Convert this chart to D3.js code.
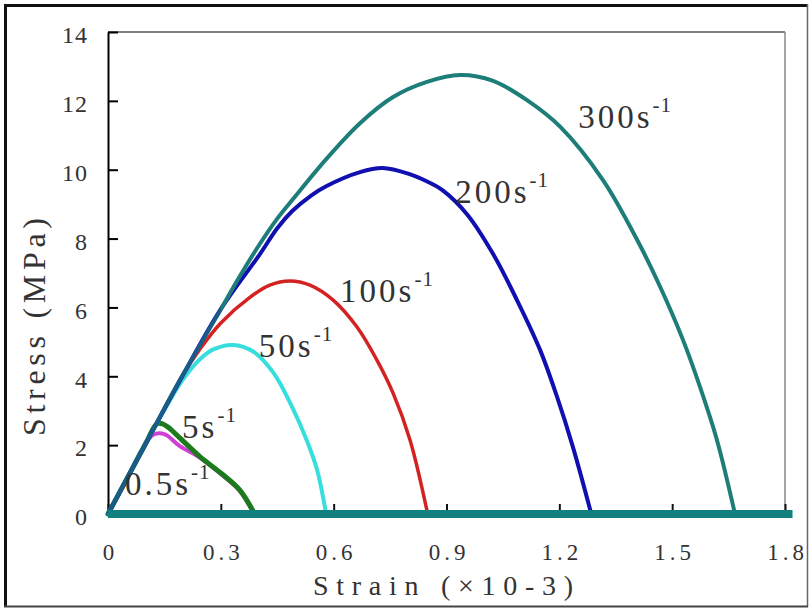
<!DOCTYPE html>
<html>
<head>
<meta charset="utf-8">
<script src="https://cdn.jsdelivr.net/npm/d3@7"></script>
<style>
  body { margin: 0; background: #fff; }
  svg text { font-family: "Liberation Serif", "DejaVu Serif", "Times New Roman", serif !important; }
</style>
</head>
<body>
<svg width="810" height="609"></svg>
<script>
// strain (x10-3) / stress (MPa)
var rate05 = [[0,0],[0.05,1.0],[0.09,1.85],[0.12,2.3],[0.15,2.32],[0.19,1.98],[0.245,1.63],[0.3,1.16],[0.35,0.68],[0.388,0]];
var rate5 = [[0,0],[0.05,1.02],[0.1,2.04],[0.13,2.62],[0.145,2.62],[0.16,2.52],[0.19,2.22],[0.245,1.66],[0.3,1.19],[0.35,0.7],[0.39,0]];
var rate50 = [[0,0],[0.1,2.04],[0.17,3.4],[0.2,3.92],[0.245,4.5],[0.28,4.78],[0.332,4.91],[0.386,4.72],[0.44,4.1],[0.49,3.1],[0.53,2.1],[0.556,1.28],[0.58,0]];
var rate100 = [[0,0],[0.1,2.04],[0.2,4.05],[0.245,4.8],[0.3,5.55],[0.378,6.3],[0.43,6.65],[0.484,6.77],[0.537,6.65],[0.598,6.22],[0.662,5.43],[0.715,4.47],[0.758,3.51],[0.803,2.15],[0.85,0]];
var rate200 = [[0,0],[0.1,2.04],[0.2,4.05],[0.3,5.95],[0.404,7.55],[0.45,8.3],[0.49,8.8],[0.54,9.25],[0.58,9.52],[0.67,9.93],[0.73,10.05],[0.8,9.88],[0.85,9.65],[0.89,9.4],[0.955,8.7],[1.024,7.55],[1.088,6.2],[1.149,4.76],[1.194,3.4],[1.236,1.95],[1.285,0]];
var rate300 = [[0,0],[0.1,2.04],[0.191,3.89],[0.3,5.95],[0.35,6.9],[0.404,7.85],[0.45,8.58],[0.492,9.15],[0.582,10.33],[0.67,11.35],[0.758,12.11],[0.848,12.55],[0.936,12.75],[1.024,12.58],[1.114,12.02],[1.202,11.25],[1.316,9.7],[1.407,7.96],[1.468,6.6],[1.529,5.05],[1.574,3.69],[1.619,2.15],[1.667,0]];
var zeroTail = [[0,0],[1.82,0]];

var rateNames = ["0.5s", "5s", "50s", "100s", "200s", "300s"];
var rateColors = ["#d23fd6", "#1b7a1b", "#36dede", "#d42222", "#1010b0", "#1d7d78"];
var rateWidths = [4, 5, 4, 3.5, 4, 4];
// where each label starts (strain, stress)
var labelAt = [[0.045,0.55],[0.197,2.21],[0.401,4.56],[0.617,6.16],[0.923,9.03],[1.25,11.21]];

var xTicks = [0, 0.3, 0.6, 0.9, 1.2, 1.5, 1.8];
var xTickLabels = ["0", "0.3", "0.6", "0.9", "1.2", "1.5", "1.8"];
var yTicks = [0, 2, 4, 6, 8, 10, 12, 14];

var series = [rate05, rate5, rate50, rate100, rate200, rate300];

var svg = d3.select("svg");
var x = d3.scaleLinear().domain([0, 1.8]).range([108, 785]);
var y = d3.scaleLinear().domain([0, 14]).range([514, 32]);

// outer frame
svg.append("line").attr("x1", 5.5).attr("x2", 5.5).attr("y1", 4).attr("y2", 607).attr("stroke", "#111").attr("stroke-width", 3);
svg.append("line").attr("x1", 4).attr("x2", 808).attr("y1", 5.5).attr("y2", 5.5).attr("stroke", "#111").attr("stroke-width", 3);
svg.append("line").attr("x1", 807.5).attr("x2", 807.5).attr("y1", 4).attr("y2", 607).attr("stroke", "#666").attr("stroke-width", 1.5);
svg.append("line").attr("x1", 4).attr("x2", 808).attr("y1", 606.5).attr("y2", 606.5).attr("stroke", "#444").attr("stroke-width", 2);

// plot box
svg.append("line").attr("x1", x(0)).attr("x2", x(1.8)).attr("y1", y(14)).attr("y2", y(14)).attr("stroke", "#555").attr("stroke-width", 1.5);
svg.append("line").attr("x1", x(1.8)).attr("x2", x(1.8)).attr("y1", y(14)).attr("y2", y(0)).attr("stroke", "#888").attr("stroke-width", 1.5);

var yAxis = svg.append("g")
    .attr("transform", "translate(" + x(0) + ",0)")
    .call(d3.axisLeft(y).tickValues(yTicks).tickSizeInner(-10).tickSizeOuter(0).tickPadding(20));
yAxis.select(".domain").attr("stroke", "#000").attr("stroke-width", 2);
yAxis.selectAll(".tick line").attr("stroke", "#000").attr("stroke-width", 2);
yAxis.selectAll(".tick text")
    .attr("font-size", 24)
    .attr("fill", "#333").attr("letter-spacing", 1).attr("dy", "0.45em");

var xAxis = svg.append("g")
    .attr("transform", "translate(0," + y(0) + ")")
    .call(d3.axisBottom(x).tickValues(xTicks).tickFormat((d, i) => xTickLabels[i])
        .tickSizeInner(-10).tickSizeOuter(0).tickPadding(30));
xAxis.select(".domain").remove();
xAxis.selectAll(".tick line").attr("stroke", "#111").attr("stroke-width", 2);
xAxis.selectAll(".tick text")
    .attr("font-size", 23)
    .attr("fill", "#333").attr("letter-spacing", 4).attr("dx", 2);

// curves
var line = d3.line().x(d => x(d[0])).y(d => y(d[1])).curve(d3.curveCatmullRom.alpha(0.5));
svg.append("g").selectAll("path")
    .data(series)
    .enter().append("path")
    .attr("d", line)
    .attr("fill", "none")
    .attr("stroke", (d, i) => rateColors[i])
    .attr("stroke-width", (d, i) => rateWidths[i])
    .attr("stroke-linejoin", "round")
    .attr("stroke-linecap", "round");

// blue shows through teal where the curves share the elastic part
svg.append("clipPath").attr("id", "shared")
    .append("rect").attr("x", x(0) - 5).attr("y", y(14)).attr("width", x(0.3) - x(0) + 5).attr("height", y(0) - y(14));
svg.append("path")
    .attr("d", line(rate200))
    .attr("clip-path", "url(#shared)")
    .attr("fill", "none").attr("stroke", rateColors[4]).attr("stroke-opacity", 0.3).attr("stroke-width", 4);

// all curves run on along zero stress
svg.append("path")
    .attr("d", d3.line().x(d => x(d[0])).y(d => y(d[1]))(zeroTail))
    .attr("stroke", "#138080").attr("stroke-width", 8).attr("fill", "none");

// curve labels
var labels = svg.append("g").selectAll("text")
    .data(rateNames)
    .enter().append("text")
    .attr("x", (d, i) => x(labelAt[i][0]))
    .attr("y", (d, i) => y(labelAt[i][1]))
    .attr("font-size", 33)
    .attr("letter-spacing", 3)
    .attr("fill", "#333");
labels.append("tspan").text(d => d);
labels.append("tspan").text("-1").attr("font-size", 21).attr("dy", -16).attr("letter-spacing", 1);

// axis titles
svg.append("text")
    .attr("x", 313).attr("y", 595)
    .attr("font-size", 28).attr("fill", "#333")
    .attr("textLength", 260).attr("lengthAdjust", "spacing")
    .text("Strain (×10-3)");

svg.append("text")
    .attr("transform", "translate(45,436) rotate(-90)")
    .attr("font-size", 32).attr("fill", "#333")
    .attr("textLength", 218).attr("lengthAdjust", "spacing")
    .text("Stress (MPa)");
</script>
</body>
</html>
